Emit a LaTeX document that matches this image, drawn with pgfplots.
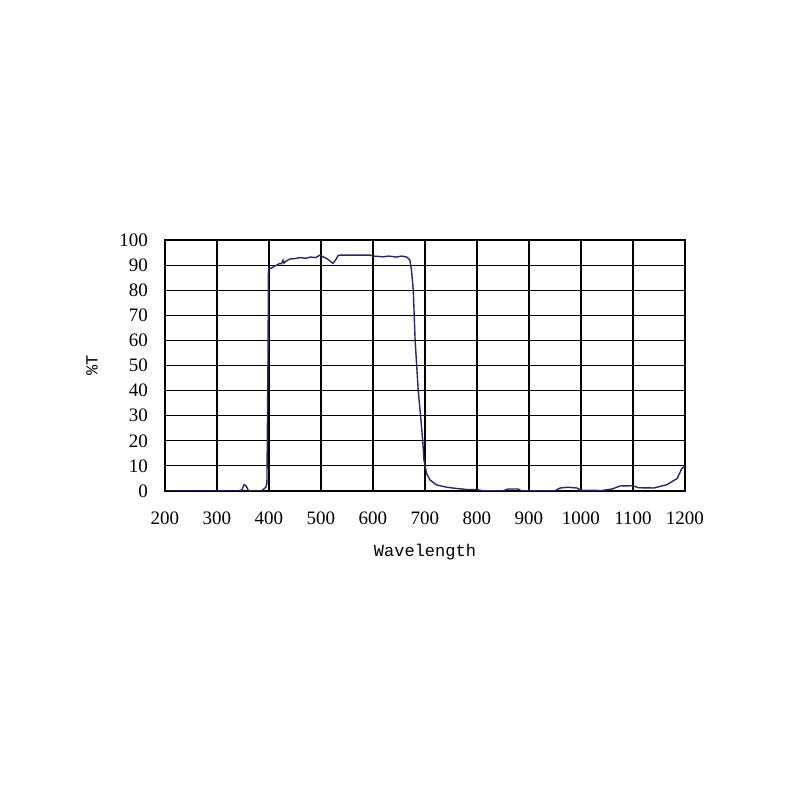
\documentclass[border=0pt]{standalone}
\usepackage{fontspec}
\setmainfont{Liberation Serif}
\newfontfamily\monofont{Liberation Mono}
\usepackage{pgfplots}
\pgfplotsset{compat=1.18}
\definecolor{curve}{RGB}{40,40,100}
\begin{document}
\begin{tikzpicture}
\useasboundingbox[fill=white] (0,0) rectangle (400pt,400pt);
\begin{axis}[
  name=ax,
  scale only axis, width=260pt, height=125.5pt,
  at={(82.5pt,154.5pt)}, anchor=south west,
  xmin=200, xmax=1200, ymin=0, ymax=100,
  xtick={200,300,...,1200}, ytick={0,10,...,100},
  grid=major, major grid style={black, line width=0.55pt},
  axis line style={black, line width=0.6pt},
  major tick length=0pt,
  /pgf/number format/assume math mode=true,
  /pgf/number format/1000 sep={},
  tick label style={font=\fontsize{9.5}{11}\selectfont, black},
  xticklabel style={yshift=-7pt},
  yticklabel style={xshift=-5pt},
  xlabel={\monofont Wavelength},
  label style={font=\fontsize{8.5}{10}\selectfont},
  xlabel style={at={(axis description cs:0.5,0)}, anchor=center, yshift=-30.5pt},
]
\addplot[curve, line width=0.7pt] coordinates {
(200,0) (340,0) (348,0.5) (352,2.5) (356,2.0) (360,0.3) (365,0) (385,0)
(390,0.8) (394,1.5) (396,3) (398,50) (399,88.8) (405,88.8) (410,89.5)
(415,90) (421,90.7) (424,90.5) (427,92) (429,90.8) (432,91.5) (440,92.4)
(450,92.6) (460,93) (470,92.7) (480,93.2) (490,93) (498,94) (505,93.2)
(512,92.5) (518,91.5) (523,90.7) (528,92) (533,93.8) (537,94) (560,94)
(580,94) (594,94) (600,93.6) (620,93.3) (630,93.6) (645,93.2) (655,93.6)
(665,93.2) (671,92) (674,88) (677.5,80) (681,60) (687,40) (691.7,29.5)
(695.6,20) (698,12.4) (703,7) (709.6,4.4) (722.5,2.4) (741.7,1.5) (761,1)
(780,0.6) (800,0.6) (810,0.1) (850,0.1) (860,0.8) (879,0.8) (885,0.1)
(950,0.1) (960,1.2) (975,1.5) (992,1.2) (1000,0.3) (1040,0.2) (1060,0.8)
(1075,2) (1100,2.1) (1110,1.3) (1140,1.2) (1165,2.5) (1185,5) (1194,9) (1200,10)
};
\end{axis}
\node[rotate=90, anchor=center, font=\fontsize{8.5}{10}\selectfont\monofont, xshift=0pt]
  at ([xshift=-36.5pt]ax.west) {\%T};
\end{tikzpicture}
\end{document}
